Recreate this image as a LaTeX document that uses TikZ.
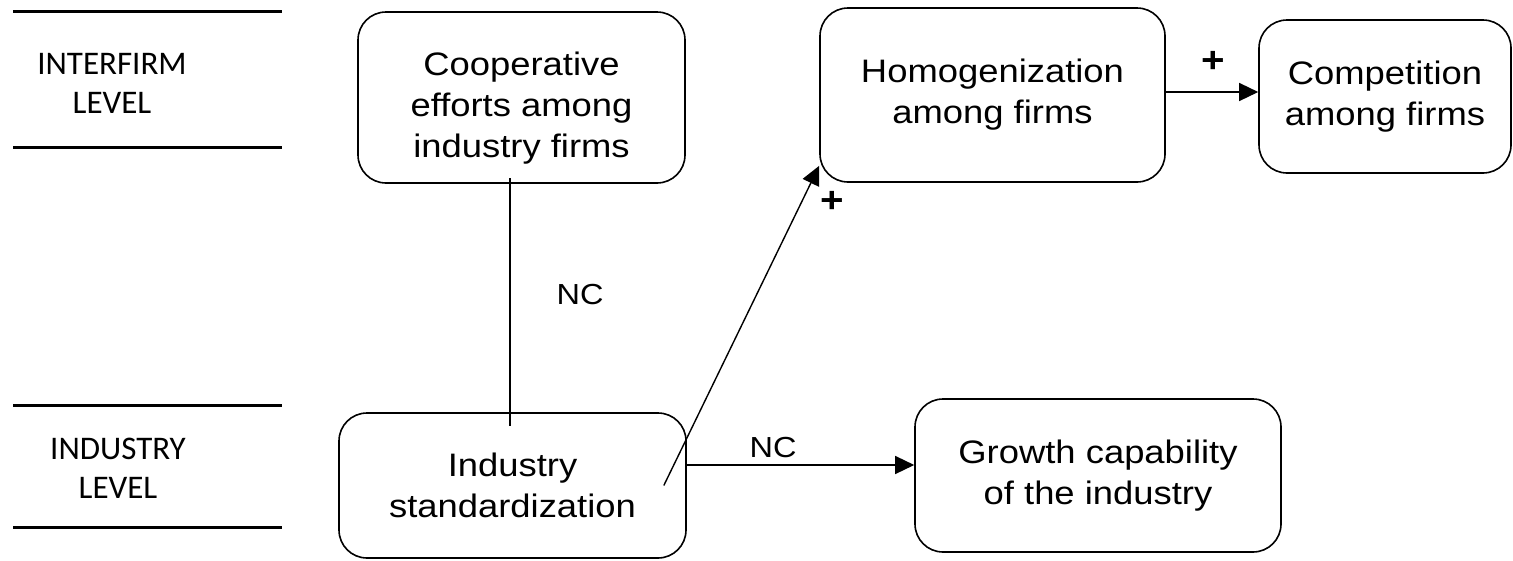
\documentclass[tikz,border=0pt]{standalone}
\usepackage{fontspec}
\setmainfont{Liberation Sans}
\newfontfamily\boxfont[FakeStretch=1.12]{Liberation Sans}
\newfontfamily\levelfont{Carlito}
\usetikzlibrary{arrows.meta}

\begin{document}
\begin{tikzpicture}[x=1pt, y=-1pt, inner sep=0mm,
		boxstyle/.style={draw, rounded corners=28pt, line width=1.6pt, align=center,
			font=\boxfont\fontsize{32.5}{41}\selectfont},
		edgestyle/.style={line width=1.4pt},
		arrowstyle/.style={edgestyle, -{Triangle[length=19pt, width=18pt]}},
		levelstyle/.style={align=center, font=\levelfont\fontsize{33}{39}\selectfont},
		signstyle/.style={font=\boxfont\bfseries\fontsize{36}{36}\selectfont},
		ncstyle/.style={font=\boxfont\fontsize{29}{29}\selectfont}]
		\useasboundingbox (0,0) rectangle (1513,560);

		% level separators
		\foreach \y in {11, 147, 405, 527}
			\draw [line width=3pt] (13,\y) -- (282,\y);
		\node [levelstyle] (interfirm) at (112,83) {INTERFIRM\\ LEVEL};
		\node [levelstyle] (industry) at (118,468) {INDUSTRY\\ LEVEL};

		\node [boxstyle, minimum width=327pt, minimum height=171pt,
			label={[align=center, font=\boxfont\fontsize{32.5}{41}\selectfont, yshift=-11pt]center:Cooperative\\ efforts among\\ industry firms}] (coop) at (521.5,97.5) {};
		\node [boxstyle, minimum width=345pt, minimum height=174pt] (homog) at (992.5,95) {Homogenization\\ among firms};
		\node [boxstyle, minimum width=252pt, minimum height=153pt] (comp) at (1385,96.5) {Competition\\ among firms};
		\node [boxstyle, minimum width=347pt, minimum height=145pt] (ind) at (512.5,485.5) {Industry\\ standardization};
		\node [boxstyle, minimum width=366pt, minimum height=153pt] (growth) at (1098,475.5) {Growth capability\\ of the industry};

		\draw [edgestyle] ([xshift=-11.5pt, yshift=5.5pt]coop.south) -- ([xshift=-2.5pt, yshift=-14pt]ind.north);
		\draw [arrowstyle] ([xshift=-23pt]ind.east) -- ([yshift=17pt]homog.south west);
		\draw [arrowstyle] ([yshift=3pt]homog.east) -- ([yshift=3pt]homog.east -| comp.west);
		\draw [arrowstyle] ([yshift=20.5pt]ind.east) -- ([yshift=20.5pt]ind.east -| growth.west);

		\node [ncstyle] (nc1) at (580,295) {NC};
		\node [ncstyle] (nc2) at (773,448) {NC};
		\node [signstyle] (plus1) at (1213,62) {+};
		\node [signstyle] (plus2) at (832,202) {+};
		\end{tikzpicture}
\end{document}
